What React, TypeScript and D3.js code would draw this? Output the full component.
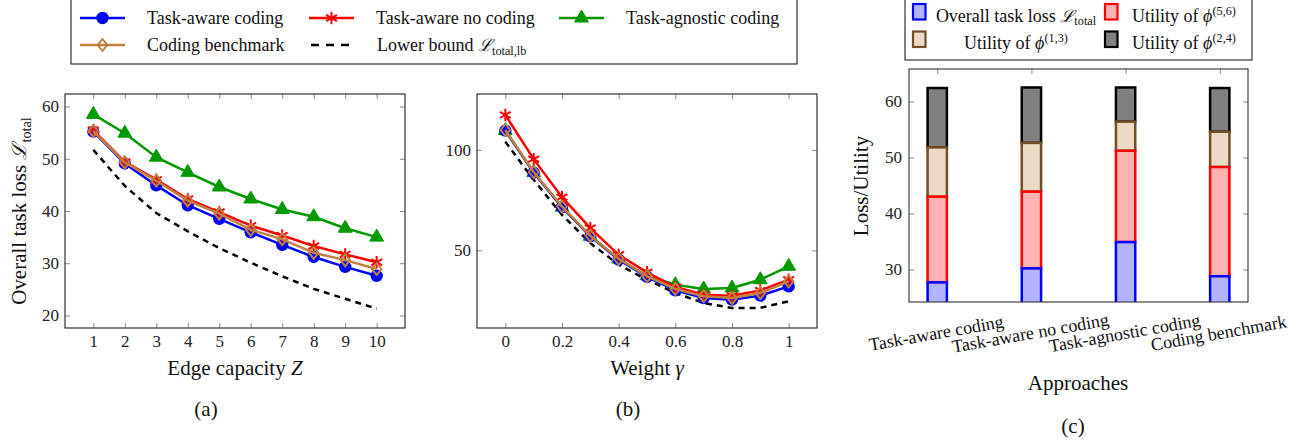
import React, { useEffect, useRef } from 'react';
import * as d3 from 'd3';

// panel (a): loss vs edge capacity Z
const capacity = [1, 2, 3, 4, 5, 6, 7, 8, 9, 10];
const awareCodingA = [55.2, 49.1, 44.9, 41.1, 38.5, 35.9, 33.5, 31.2, 29.3, 27.6];
const awareNoCodingA = [55.5, 49.4, 46.0, 42.3, 39.8, 37.2, 35.3, 33.3, 31.7, 30.2];
const agnosticA = [58.5, 54.9, 50.3, 47.4, 44.6, 42.3, 40.3, 38.9, 36.7, 35.0];
const benchmarkA = [55.3, 49.3, 45.8, 42.0, 39.5, 36.4, 34.6, 32.0, 30.6, 28.9];
const lowerA = [51.7, 44.8, 39.6, 36.1, 32.9, 30.1, 27.5, 25.1, 23.2, 21.3];

// panel (b): loss vs weight gamma
const weights = [0, 0.1, 0.2, 0.3, 0.4, 0.5, 0.6, 0.7, 0.8, 0.9, 1];
const awareCodingB = [109.6, 88.7, 71.5, 57.0, 45.4, 36.8, 30.1, 26.3, 25.5, 27.5, 32.1];
const awareNoCodingB = [117.4, 95.4, 76.5, 61.1, 47.8, 39.1, 31.8, 28.0, 27.5, 30.1, 35.4];
const agnosticB = [109.6, 88.7, 71.5, 57.0, 45.7, 37.4, 32.9, 30.8, 31.3, 35.4, 42.1];
const benchmarkB = [109.9, 89.0, 71.8, 57.3, 45.8, 37.2, 30.8, 27.2, 26.3, 28.8, 34.6];
const lowerB = [104.1, 85.1, 67.7, 53.6, 42.9, 35.4, 28.8, 23.8, 21.4, 21.4, 24.7];

// panel (c): stacked loss / utilities
const approaches = ['Task-aware coding', 'Task-aware no coding', 'Task-agnostic coding', 'Coding benchmark'];
const totalLoss = [27.7, 30.2, 34.9, 28.8];
const util56 = [15.3, 13.7, 16.3, 19.5];
const util13 = [8.8, 8.7, 5.2, 6.3];
const util24 = [10.6, 9.9, 6.1, 7.8];

const serif = '"Liberation Serif", "Times New Roman", serif';
const tickGray = '#8a8a8a';
const BLUE = '#0000ff';
const RED = '#ff0000';
const GREEN = '#009900';
const BROWN = '#bf8040';

const drawMarker = (g, kind, cx, cy, color) => {
  if (kind === 'circle') {
    g.append('circle').attr('cx', cx).attr('cy', cy).attr('r', 5.4)
      .attr('fill', color).attr('stroke', color).attr('stroke-width', 1.6);
  } else if (kind === 'asterisk') {
    [90, 30, -30].forEach((a) => {
      const dx = 6.2 * Math.cos((a * Math.PI) / 180);
      const dy = 6.2 * Math.sin((a * Math.PI) / 180);
      g.append('line').attr('x1', cx - dx).attr('y1', cy - dy)
        .attr('x2', cx + dx).attr('y2', cy + dy)
        .attr('stroke', color).attr('stroke-width', 2);
    });
  } else if (kind === 'triangle') {
    const r = 8;
    g.append('path')
      .attr('d', `M${cx},${cy - r}L${cx + r * 0.866},${cy + r * 0.5}L${cx - r * 0.866},${cy + r * 0.5}Z`)
      .attr('fill', color).attr('stroke', color).attr('stroke-width', 1);
  } else if (kind === 'diamond') {
    g.append('path')
      .attr('d', `M${cx},${cy - 6}L${cx + 4.8},${cy}L${cx},${cy + 6}L${cx - 4.8},${cy}Z`)
      .attr('fill', 'none').attr('stroke', color).attr('stroke-width', 2);
  }
};

const styleAxis = (sel) => {
  sel.attr('font-family', serif).attr('font-size', 17);
  sel.select('.domain').remove();
  sel.selectAll('line').attr('stroke', tickGray).attr('stroke-width', 1);
  sel.selectAll('text').attr('font-family', serif).attr('font-size', 17).attr('fill', '#222');
};

const linePanel = (svg, box, xDomain, yDomain, xTicks, yTicks, xs, series) => {
  const x = d3.scaleLinear().domain(xDomain).range([box.left, box.right]);
  const y = d3.scaleLinear().domain(yDomain).range([box.bottom, box.top]);
  const g = svg.append('g');
  const fmt = d3.format('~g');

  g.append('g').attr('transform', `translate(0,${box.bottom})`)
    .call(d3.axisBottom(x).tickValues(xTicks).tickFormat(fmt).tickSize(-5).tickPadding(7))
    .call(styleAxis);
  g.append('g').attr('transform', `translate(0,${box.top})`)
    .call(d3.axisTop(x).tickValues(xTicks).tickFormat(() => '').tickSize(-5))
    .call(styleAxis);
  g.append('g').attr('transform', `translate(${box.left},0)`)
    .call(d3.axisLeft(y).tickValues(yTicks).tickFormat(fmt).tickSize(-5).tickPadding(6))
    .call(styleAxis);
  g.append('g').attr('transform', `translate(${box.right},0)`)
    .call(d3.axisRight(y).tickValues(yTicks).tickFormat(() => '').tickSize(-5))
    .call(styleAxis);
  g.append('rect')
    .attr('x', box.left).attr('y', box.top)
    .attr('width', box.right - box.left).attr('height', box.bottom - box.top)
    .attr('fill', 'none').attr('stroke', '#222').attr('stroke-width', 1.1);

  const line = d3.line();
  series.forEach((s) => {
    const pts = xs.map((xv, i) => [x(xv), y(s.values[i])]);
    g.append('path').datum(pts).attr('d', line)
      .attr('fill', 'none').attr('stroke', s.color).attr('stroke-width', 2.5)
      .attr('stroke-dasharray', s.dashed ? '6,5' : null);
    if (s.marker) pts.forEach((p) => drawMarker(g, s.marker, p[0], p[1], s.color));
  });
};

// text with L_total style subscript
const addLoss = (t, sub, size) => {
  t.append('tspan').attr('font-family', '"DejaVu Serif", serif').attr('font-style', 'italic')
    .attr('font-size', size * 0.95).text('ℒ');
  t.append('tspan').attr('font-size', size * 0.68).attr('dy', size * 0.22).text(sub);
};
const addPhi = (t, sup, size) => {
  t.append('tspan').attr('font-style', 'italic').text('ϕ');
  t.append('tspan').attr('font-size', size * 0.68).attr('dy', -size * 0.38).text(sup);
};

const App = () => {
  const ref = useRef(null);

  useEffect(() => {
    const svg = d3.select(ref.current);
    svg.selectAll('*').remove();

    const seriesA = [
      { color: 'black', values: lowerA, dashed: true },
      { color: GREEN, values: agnosticA, marker: 'triangle' },
      { color: BLUE, values: awareCodingA, marker: 'circle' },
      { color: RED, values: awareNoCodingA, marker: 'asterisk' },
      { color: BROWN, values: benchmarkA, marker: 'diamond' },
    ];
    const seriesB = [
      { color: 'black', values: lowerB, dashed: true },
      { color: GREEN, values: agnosticB, marker: 'triangle' },
      { color: BLUE, values: awareCodingB, marker: 'circle' },
      { color: RED, values: awareNoCodingB, marker: 'asterisk' },
      { color: BROWN, values: benchmarkB, marker: 'diamond' },
    ];

    linePanel(svg, { left: 65, right: 405, top: 94, bottom: 328 }, [0.1, 10.9], [17.6, 62.4],
      capacity, [20, 30, 40, 50, 60], capacity, seriesA);
    linePanel(svg, { left: 477, right: 817, top: 94, bottom: 328 }, [-0.1, 1.1], [11.4, 127.8],
      [0, 0.2, 0.4, 0.6, 0.8, 1], [50, 100], weights, seriesB);

    // axis labels (a), (b)
    const yl = svg.append('text').attr('transform', 'translate(26,211) rotate(-90)')
      .attr('text-anchor', 'middle').attr('font-family', serif).attr('font-size', 21).attr('fill', '#111');
    yl.append('tspan').text('Overall task loss ');
    addLoss(yl, 'total', 21);

    const xl = svg.append('text').attr('x', 235).attr('y', 375).attr('text-anchor', 'middle')
      .attr('font-family', serif).attr('font-size', 21).attr('fill', '#111');
    xl.append('tspan').text('Edge capacity ');
    xl.append('tspan').attr('font-style', 'italic').text('Z');

    const xl2 = svg.append('text').attr('x', 647).attr('y', 375).attr('text-anchor', 'middle')
      .attr('font-family', serif).attr('font-size', 21).attr('fill', '#111');
    xl2.append('tspan').text('Weight ');
    xl2.append('tspan').attr('font-style', 'italic').text('γ');

    [['(a)', 206, 416], ['(b)', 628, 416], ['(c)', 1073, 433]].forEach(([s, cx, cy]) => {
      svg.append('text').attr('x', cx).attr('y', cy).attr('text-anchor', 'middle')
        .attr('font-family', serif).attr('font-size', 21).attr('fill', '#111').text(s);
    });

    // legend for (a)/(b)
    const lg = svg.append('g');
    lg.append('rect').attr('x', 71).attr('y', -2).attr('width', 726).attr('height', 66)
      .attr('fill', 'white').attr('stroke', '#222').attr('stroke-width', 1.1);
    const legendItems = [
      { label: 'Task-aware coding', color: BLUE, marker: 'circle', lx: 80, row: 0 },
      { label: 'Task-aware no coding', color: RED, marker: 'asterisk', lx: 309, row: 0 },
      { label: 'Task-agnostic coding', color: GREEN, marker: 'triangle', lx: 559, row: 0 },
      { label: 'Coding benchmark', color: BROWN, marker: 'diamond', lx: 80, row: 1 },
      { label: 'Lower bound ', color: 'black', marker: null, lx: 309, row: 1, dashed: true },
    ];
    legendItems.forEach((d) => {
      const cy = d.row === 0 ? 18 : 45;
      if (d.dashed) {
        lg.append('line').attr('x1', 311).attr('x2', 349).attr('y1', cy).attr('y2', cy)
          .attr('stroke', 'black').attr('stroke-width', 2.5).attr('stroke-dasharray', '8,7');
      } else {
        lg.append('line').attr('x1', d.lx).attr('x2', d.lx + 45).attr('y1', cy).attr('y2', cy)
          .attr('stroke', d.color).attr('stroke-width', 2.5);
        drawMarker(lg, d.marker, d.lx + 22.5, cy, d.color);
      }
      const t = lg.append('text').attr('x', d.lx + (d.dashed ? 68 : 67)).attr('y', cy + 6)
        .attr('font-family', serif).attr('font-size', 18).attr('fill', '#111');
      t.append('tspan').text(d.label);
      if (d.dashed) addLoss(t, 'total,lb', 18);
    });

    // panel (c): stacked bars
    const box = { left: 909, right: 1248, top: 69, bottom: 302 };
    const xc = d3.scalePoint().domain(approaches).range([box.left, box.right]).padding(0.3);
    const yc = d3.scaleLinear().domain([24.2, 65.8]).range([box.bottom, box.top]);
    const gc = svg.append('g');
    gc.append('clipPath').attr('id', 'clip-c').append('rect')
      .attr('x', box.left).attr('y', box.top)
      .attr('width', box.right - box.left).attr('height', box.bottom - box.top);

    gc.append('g').attr('transform', `translate(0,${box.top})`)
      .call(d3.axisTop(xc).tickFormat(() => '').tickSize(-5)).call(styleAxis);
    gc.append('g').attr('transform', `translate(${box.left},0)`)
      .call(d3.axisLeft(yc).tickValues([30, 40, 50, 60]).tickSize(-5).tickPadding(7)).call(styleAxis);
    gc.append('g').attr('transform', `translate(${box.right},0)`)
      .call(d3.axisRight(yc).tickValues([30, 40, 50, 60]).tickFormat(() => '').tickSize(-5)).call(styleAxis);

    const table = approaches.map((a, i) => ({
      name: a, loss: totalLoss[i], u56: util56[i], u13: util13[i], u24: util24[i],
    }));
    const keys = ['loss', 'u56', 'u13', 'u24'];
    const barStyle = {
      loss: { fill: '#b3b3ff', stroke: BLUE },
      u56: { fill: '#ffb3b3', stroke: RED },
      u13: { fill: '#ecd9c6', stroke: '#734d26' },
      u24: { fill: '#808080', stroke: '#000000' },
    };
    const stacked = d3.stack().keys(keys)(table);
    const bw = 19.3;
    const bars = gc.append('g').attr('clip-path', 'url(#clip-c)');
    stacked.slice().reverse().forEach((layer) => {
      bars.selectAll(null).data(layer).enter().append('rect')
        .attr('x', (d) => xc(d.data.name) - bw / 2)
        .attr('y', (d) => yc(d[1]))
        .attr('width', bw)
        .attr('height', (d) => yc(d[0]) - yc(d[1]))
        .attr('fill', barStyle[layer.key].fill)
        .attr('stroke', barStyle[layer.key].stroke)
        .attr('stroke-width', 2.5);
    });
    gc.append('rect')
      .attr('x', box.left).attr('y', box.top)
      .attr('width', box.right - box.left).attr('height', box.bottom - box.top)
      .attr('fill', 'none').attr('stroke', '#333').attr('stroke-width', 1.1);

    approaches.forEach((a) => {
      gc.append('text').attr('transform', `translate(${xc(a)},339) rotate(-10)`)
        .attr('text-anchor', 'middle').attr('font-family', serif).attr('font-size', 18)
        .attr('fill', '#111').text(a);
    });
    gc.append('text').attr('x', 1078).attr('y', 390).attr('text-anchor', 'middle')
      .attr('font-family', serif).attr('font-size', 21).attr('fill', '#111').text('Approaches');
    gc.append('text').attr('transform', 'translate(868,186) rotate(-90)').attr('text-anchor', 'middle')
      .attr('font-family', serif).attr('font-size', 21).attr('fill', '#111').text('Loss/Utility');

    // legend for (c)
    const lc = svg.append('g');
    lc.append('rect').attr('x', 905).attr('y', -2).attr('width', 347).attr('height', 62)
      .attr('fill', 'white').attr('stroke', '#222').attr('stroke-width', 1.1);
    const legendC = [
      { key: 'loss', sx: 913, tx: 1016, row: 0 },
      { key: 'u56', sx: 1105, tx: 1184, row: 0 },
      { key: 'u13', sx: 913, tx: 1016, row: 1 },
      { key: 'u24', sx: 1105, tx: 1184, row: 1 },
    ];
    legendC.forEach((d) => {
      const top = d.row === 0 ? 4 : 31.5;
      lc.append('rect').attr('x', d.sx).attr('y', top).attr('width', 12.5).attr('height', 15.5)
        .attr('fill', barStyle[d.key].fill).attr('stroke', barStyle[d.key].stroke).attr('stroke-width', 2.2);
      const t = lc.append('text').attr('x', d.tx).attr('y', d.row === 0 ? 21.5 : 48.5)
        .attr('text-anchor', 'middle').attr('font-family', serif).attr('font-size', 18).attr('fill', '#111');
      if (d.key === 'loss') {
        t.append('tspan').text('Overall task loss ');
        addLoss(t, 'total', 18);
      } else {
        t.append('tspan').text('Utility of ');
        addPhi(t, { u56: '(5,6)', u13: '(1,3)', u24: '(2,4)' }[d.key], 18);
      }
    });
  }, []);

  return (
    <svg ref={ref} width={1304} height={444}
      style={{ position: 'absolute', left: 0, top: 0, background: '#fff' }} />
  );
};

export default App;
